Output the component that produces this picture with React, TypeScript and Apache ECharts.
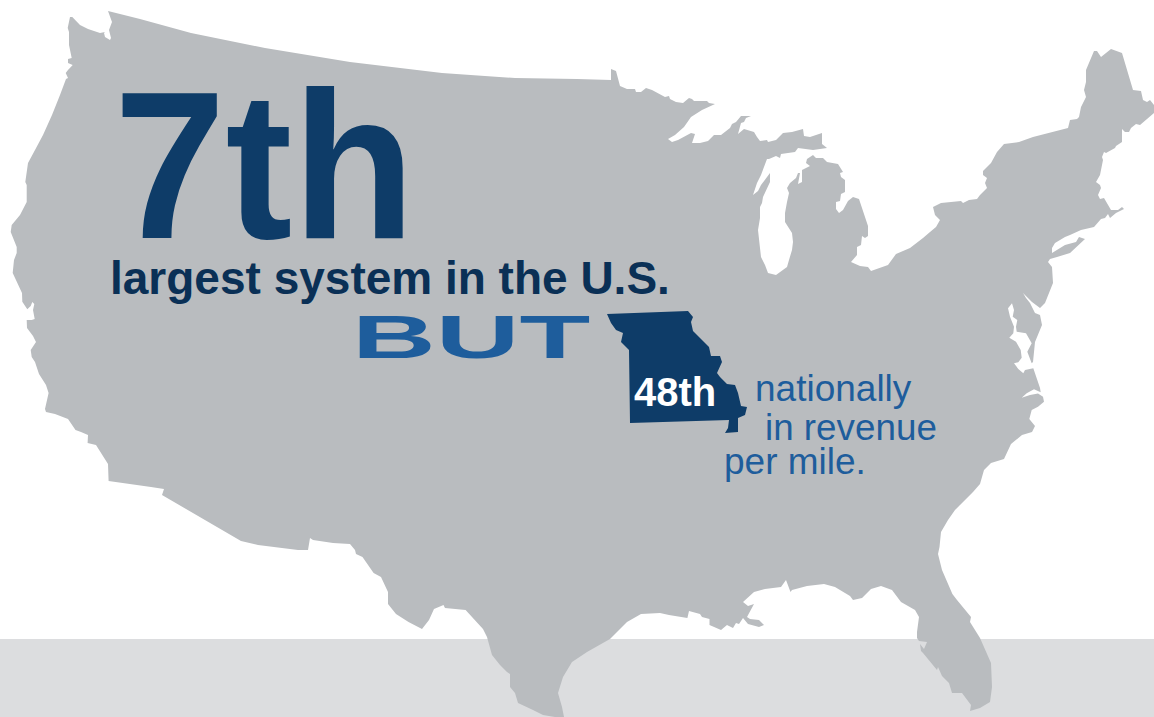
import React, { useEffect, useRef } from "react";
import * as echarts from "echarts";

const WIDTH = 1154;
const HEIGHT = 717;

const headline = "7th";
const subline = "largest system in the U.S.";
const contrast = "BUT";
const rank = "48th";
const rankNotes = ["nationally", "in revenue", "per mile."];

const northBorder: number[][] = [
  [108,11],[140,19],[191,33],[265,48],[350,62],[442,73],[515,78],[577,79],[611,80],[611,69],[616,71],[620,86],[627,89],[635,89],[636,92],[641,92],[646,88],[652,90],[665,97],[669,96],[670,99],[676,102],[683,103],[689,98],[692,99],[694,101],[707,101],[709,103],[715,104],
];
const greatLakes: number[][] = [
  [702,110],[691,117],[684,127],[675,135],[668,139],[672,142],[678,140],[691,133],[695,134],[692,143],[700,143],[708,141],[714,135],[721,135],[730,128],[732,124],[736,122],[741,116],[751,116],[746,118],[744,122],[741,123],[738,134],[744,129],[754,132],[757,137],[760,141],[767,140],[768,142],[776,140],[783,133],[792,132],[803,129],[804,136],[810,137],[822,133],[822,144],[827,148],[813,150],[798,148],[795,152],[781,154],[780,158],[776,156],[769,159],[767,159],[761,175],[757,183],[753,195],[758,191],[761,185],[770,173],[770,182],[763,197],[762,203],[760,207],[760,218],[758,230],[761,257],[765,265],[768,273],[776,275],[787,267],[789,260],[792,250],[793,242],[792,233],[785,222],[785,213],[787,202],[789,193],[787,188],[790,183],[796,178],[798,173],[800,173],[798,184],[802,182],[802,170],[810,166],[806,163],[807,159],[813,155],[816,158],[823,158],[827,162],[838,164],[843,172],[840,173],[841,177],[845,180],[845,192],[841,194],[840,201],[836,202],[836,209],[839,213],[843,210],[848,201],[853,197],[859,199],[862,208],[868,226],[868,236],[865,238],[862,236],[861,245],[857,247],[857,255],[851,262],[860,266],[868,267],[871,271],[888,265],[896,254],[910,248],[923,238],[930,232],[936,227],[940,220],[935,215],[933,207],[941,203],[961,201],[963,203],[969,200],[977,199],[980,195],[987,188],[985,183],[987,178],[983,175],[983,171],[991,163],[997,152],[1004,144],[1019,142],[1033,137],[1068,128],
];
const newEngland: number[][] = [
  [1070,120],[1077,119],[1079,117],[1081,107],[1086,97],[1084,90],[1086,82],[1086,70],[1094,51],[1097,51],[1101,57],[1111,49],[1122,53],[1133,90],[1141,91],[1143,100],[1147,102],[1150,100],[1154,105],[1154,113],[1140,125],[1136,124],[1131,128],[1129,132],[1125,132],[1122,129],[1122,142],[1116,146],[1115,148],[1106,153],[1104,152],[1102,157],[1103,160],[1100,175],[1096,182],[1100,185],[1101,188],[1098,195],[1100,199],[1104,198],[1111,210],[1118,210],[1122,207],[1124,209],[1116,213],[1110,218],[1108,214],[1105,218],[1101,219],[1094,227],[1081,230],[1070,235],[1065,237],[1055,243],[1052,248],[1052,253],[1065,245],[1076,242],[1079,237],[1085,239],[1070,253],[1057,257],[1050,259],[1048,262],[1052,267],[1053,283],
];
const midAtlantic: number[][] = [
  [1045,303],[1040,308],[1032,302],[1023,293],[1026,298],[1030,303],[1035,313],[1040,315],[1042,325],[1035,342],[1033,362],[1031.7,363.3],[1027.3,351.7],[1031.7,343.3],[1026,333.3],[1016.7,331.7],[1016,326.7],[1017.3,320],[1012.7,316.7],[1014,310],[1012,303.3],[1008,308.3],[1010,316.7],[1014,326.7],[1013.3,333.3],[1009.3,337.7],[1016,341.7],[1020.7,350],[1021.7,357.7],[1018.3,362.3],[1014,363.3],[1018.3,369],[1023.3,373.3],[1025,370],[1033.3,368.3],[1040,388],[1040.7,392.3],[1034,389.3],[1026.7,393.3],[1021.7,397.7],[1030,395],[1038,393.5],[1043,396.7],[1044,401.7],[1038,406.7],[1031.7,410],[1029.3,419],[1035,426],[1032,432],
];
const southeastCoast: number[][] = [
  [1022,435],[1011,444],[1004,459],[991,463],[984,470],[980,484],[973,492],[960,505],[955,510],[948,520],[941,532],[939.5,547],[938,554],[942,570],[952.4,594],[957,600],[971,617],[970,622],[980,638],[991,663],[992,687],[990,702],[980,708],[970,711],[971,705],[962,693],[952,693],[949,683],[942,676],[938,667],[937,670],[923,653],[921,651],[920,644],[924,649],[927,642],[919,641],[917,638],[917,632],[919,617],[915,610],
];
const gulfCoast: number[][] = [
  [901,602],[892,590],[881,586],[871,589],[862,598],[853,600],[850,596],[835,587],[824,584],[807,586],[792,590],[790.5,592],[786,580],[781,587],[765,589],[754,592],[743,602],[748,606],[754,604],[747,617],[750,619],[759,620],[764,625],[759,627],[748,624],[743,618],[739,624],[736,623],[733,628],[727,625],[721,630],[709.5,625],[709.5,619],[702,617],[700,614],[689,611],[687.4,618],[669,615],[660,613],[641,614],[627,622],[610,639],[587,652],[572,662],[563,677],[558,693],[562,707],[564,717],
];
const mexicoBorder: number[][] = [
  [555,717],[543,715],[533,710],[518,703],[515,693],[510,687],[510,674],[507,672],[500,665],[492,655],[487,637],[483,629],[465.6,610],[445,608],[443.5,605],[434,609],[429,620],[422,629],[408.5,622],[396,614],[388,604],[388,592],[381,577],[373.6,573],[362.5,557],[356,554],[355,550],[350,544],[333,543],[313,540],[310,538],[308,550],[298,550],[274,547],[258,545],[241,541],[162,495],[164,489],[151,487],[108.6,481],[108,464],
];
const westCoast: number[][] = [
  [96,445],[87.6,443],[88,435],[81,432],[75.5,430],[68,419],[55,414],[46,412],[45,409],[48.6,393],[46,385],[39,374],[35,362],[31.7,357],[30.7,350],[36,342],[33,336],[27,328],[26.7,320],[31.7,320],[34.7,319],[33,310],[34.3,304],[32.3,302],[30.7,306],[27.3,309.3],[22.3,301.7],[22,293],[12.7,273],[14,260],[16.7,253],[16.7,247],[10.7,232],[11.7,225],[20,215],[26.7,202],[26.7,185],[25.3,182],[28,163],[35,150],[43,135],[52,115],[60,95],[66,79],[68,78],[65.7,73],[68,70],[72.7,65],[68,63],[68,59],[71.7,58],[69,45],[69,32],[67.7,28],[70,17],[72.3,17],[80,25],[88,29],[100,33],[105,32],[104,33],[105,37],[110,40],[111,38],[109,30],[112,22],
];
const missouriOutline: number[][] = [
  [607,314],[688,311],[693,317],[691,322],[693,331],[709,347],[711,356],[720,356],[722,362],[717,373],[720,377],[727,384],[735,385],[738,393],[741,406],[747,407],[745,415],[738,418],[738,432],[725,433],[728,428],[729,420],[630,423],[629,350],[621,342],[623,333],[616,330],[611,323],
];

const usOutline = [...northBorder, ...greatLakes, ...newEngland, ...midAtlantic, ...southeastCoast, ...gulfCoast, ...mexicoBorder, ...westCoast];

const ring = (pts: number[][]) => [...pts, pts[0]];
const feature = (name: string, pts: number[][]) => ({
  type: "Feature",
  properties: { name },
  geometry: { type: "Polygon", coordinates: [ring(pts)] },
});

const NAVY = "#0E3C68";
const DARK = "#0A3056";
const BLUE = "#1E5D9C";
const FONT = '"Liberation Sans", Arial, sans-serif';

export default function App() {
  const ref = useRef<HTMLDivElement>(null);
  useEffect(() => {
    document.body.style.margin = "0";
    echarts.registerMap("usa", {
      type: "FeatureCollection",
      features: [feature("USA", usOutline), feature("Missouri", missouriOutline)],
    } as any);
    const chart = echarts.init(ref.current!, null, { renderer: "svg" });
    const txt = (text: string, x: number, y: number, size: number, fill: string, weight: string, scaleX = 1, lineHeight?: number) => ({
      type: "text",
      x,
      y,
      scaleX,
      z: 100,
      silent: true,
      style: { text, fill, font: `${weight} ${size}px ${FONT}`, textAlign: "left", textVerticalAlign: "top", lineHeight },
    });
    chart.setOption({
      animation: false,
      backgroundColor: "#FFFFFF",
      geo: {
        map: "usa",
        left: 0,
        top: 0,
        width: WIDTH,
        height: HEIGHT,
        boundingCoords: [[0, 0], [WIDTH, HEIGHT]],
        projection: { project: (p: number[]) => p, unproject: (p: number[]) => p },
        silent: true,
        roam: false,
        label: { show: false },
        itemStyle: { areaColor: "#B9BCBF", borderWidth: 0 },
        emphasis: { disabled: true },
        select: { disabled: true },
        regions: [{ name: "Missouri", itemStyle: { areaColor: NAVY, borderWidth: 0 } }],
      },
      graphic: {
        elements: [
          { type: "rect", z: -10, silent: true, shape: { x: 0, y: 639, width: WIDTH, height: HEIGHT - 639 }, style: { fill: "#DCDDDF" } },
          txt(headline, 114, 61, 209, NAVY, "bold", 0.96),
          txt(subline, 110, 255, 46, DARK, "bold"),
          txt(contrast, 352, 306, 62, BLUE, "bold", 1.87),
          txt(rank, 634, 372, 40, "#FFFFFF", "bold"),
          txt(rankNotes[0], 755, 372, 37, BLUE, "normal", 1, 32),
          txt(rankNotes[1], 765, 411, 37, BLUE, "normal", 0.995, 32),
          txt(rankNotes[2], 724, 445, 37, BLUE, "normal", 1, 32),
        ],
      },
    });
    return () => chart.dispose();
  }, []);
  return <div ref={ref} style={{ width: WIDTH, height: HEIGHT }} />;
}
